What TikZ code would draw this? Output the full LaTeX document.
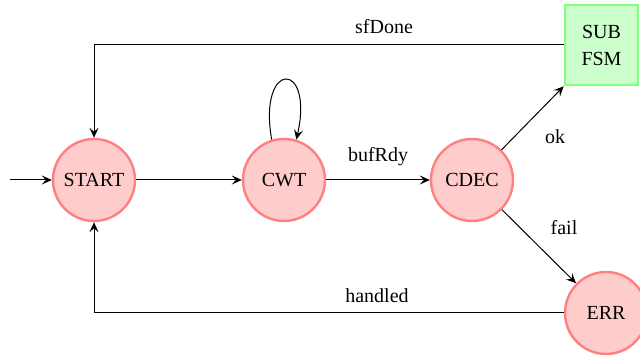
\documentclass[tikz,border=0pt]{standalone}
\usepackage{fontspec}
\setmainfont{Liberation Serif}
\usetikzlibrary{arrows.meta}
\begin{document}
\begin{tikzpicture}[x=0.5pt,y=0.5pt,
  state/.style={circle,draw=red!50,fill=red!20,line width=1.2pt,minimum size=41pt,inner sep=0pt,font=\fontsize{10}{12}\selectfont},
  subbox/.style={rectangle,draw=green!50,fill=green!20,line width=1.3pt,minimum width=36.5pt,minimum height=40pt,inner sep=0pt,align=center,font=\fontsize{10}{13.5}\selectfont},
  lbl/.style={font=\fontsize{10}{12}\selectfont,inner sep=0pt},
  >={Stealth[length=5pt,width=4.5pt,inset=2pt]},
  conn/.style={->,line width=0.5pt}]
  \useasboundingbox (0,0) rectangle (640,356);

  % states
  \node[state] (start) at (94,176) {START};
  \node[state] (cwt)   at (284,176) {CWT};
  \node[state] (cdec)  at (472,176) {CDEC};
  \node[state] (err)   at (606,43) {ERR};
  \node[subbox] (sub)  at (601.5,311) {SUB\\FSM};

  % entry point
  \coordinate (entry) at (10,176);
  \draw[conn] (entry) -- (start);

  % transitions
  \draw[conn] (start) -- (cwt);
  \draw[conn] (cwt) -- (cdec);
  \draw[conn] (cwt.107) .. controls +(-14,80) and +(18,80) .. (cwt.73);
  \draw[conn] (cdec) -- (sub.south west);
  \draw[conn] (cdec) -- (err);
  \draw[conn] (sub.west) -| (start.north);
  \draw[conn] (err.west) -| (start.south);

  % labels
  \node[lbl] (lsf)  at (384,329) {sfDone};
  \node[lbl] (lbuf) at (378,199) {bufRdy};
  \node[lbl] (lok)  at (555,219) {ok};
  \node[lbl] (lfail) at (564,128) {fail};
  \node[lbl] (lhan) at (377,60) {handled};
\end{tikzpicture}
\end{document}
